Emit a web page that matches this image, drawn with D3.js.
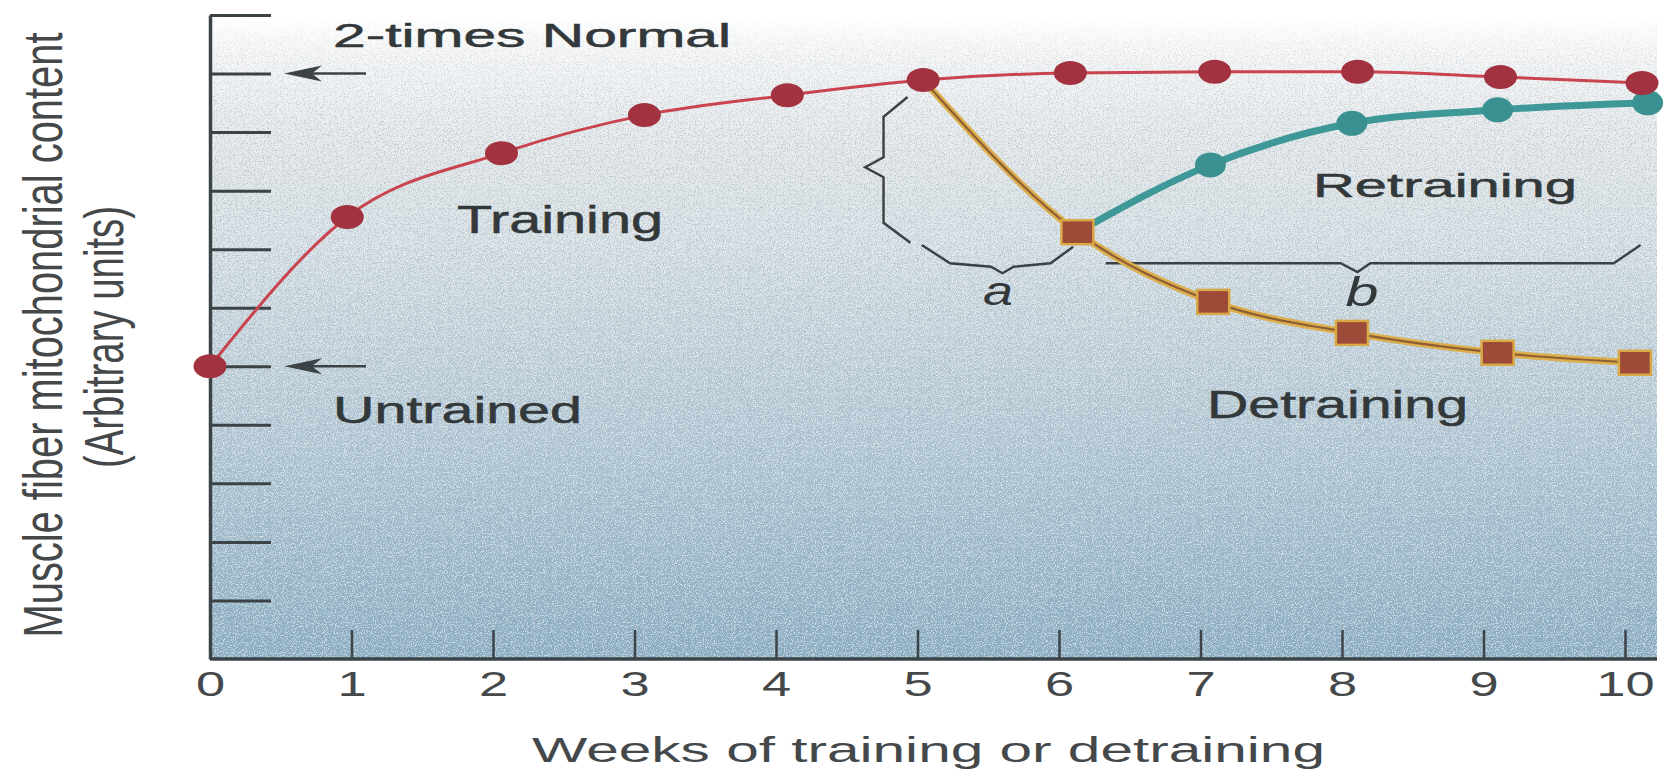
<!DOCTYPE html>
<html>
<head>
<meta charset="utf-8">
<script src="https://cdn.jsdelivr.net/npm/d3@7"></script>
<style>
  html, body { margin: 0; padding: 0; background: #ffffff; }
  svg { display: block; font-family: "Liberation Sans", Arial, Helvetica, sans-serif; }
</style>
</head>
<body>
<svg id="chart" width="1667" height="777"></svg>
<script>
// ---------------- DATA ----------------
const xTickValues = [0, 1, 2, 3, 4, 5, 6, 7, 8, 9, 10];
const xTickLabels = ["0", "1", "2", "3", "4", "5", "6", "7", "8", "9", "10"];
const yTickValues = [1, 2, 3, 4, 5, 6, 7, 8, 9, 10, 11];

const trainingWeeks  = [0, 0.97, 2.06, 3.07, 4.08, 5.04, 6.08, 7.10, 8.11, 9.12, 10.12];
const trainingValues = [5.0, 7.55, 8.64, 9.29, 9.63, 9.89, 10.01, 10.03, 10.03, 9.94, 9.84];

const detrainingWeeks  = [5.04, 6.13, 7.09, 8.07, 9.10, 10.07];
const detrainingValues = [9.89, 7.29, 6.10, 5.57, 5.23, 5.06];

const retrainingWeeks  = [6.13, 7.07, 8.07, 9.10, 10.16];
const retrainingValues = [7.29, 8.44, 9.15, 9.38, 9.50];

const untrainedLevel = 5;
const doubleLevel = 10;

const xTitle = "Weeks of training or detraining";
const yTitle1 = "Muscle fiber mitochondrial content";
const yTitle2 = "(Arbitrary units)";

// ---------------- LAYOUT ----------------
const W = 1667, H = 777;
const P = { left: 210, right: 1657, top: 15, bottom: 659 };
const x = d3.scaleLinear().domain([0, 10]).range([210, 1625]);
const y = d3.scaleLinear().domain([0, 11]).range([P.bottom, P.top]);

const axisColor = "#3b4347";
const textColor = "#33383a";

const svg = d3.select("#chart");
const defs = svg.append("defs");

// background gradient
const grad = defs.append("linearGradient").attr("id", "bg")
  .attr("x1", 0).attr("y1", 0).attr("x2", 0).attr("y2", 1);
[[0, "#ffffff"], [0.08, "#f3f4f5"], [0.25, "#e0e6e9"], [0.45, "#c8d6de"],
 [0.7, "#acc4d2"], [1, "#8aadc4"]].forEach(([o, c]) =>
  grad.append("stop").attr("offset", o).attr("stop-color", c));

// fade masks for the stipple
const mDarkG = defs.append("linearGradient").attr("id", "fadeDark")
  .attr("x1", 0).attr("y1", 0).attr("x2", 0).attr("y2", 1);
[[0, "#000"], [0.06, "#888"], [0.2, "#fff"], [1, "#fff"]].forEach(([o, c]) =>
  mDarkG.append("stop").attr("offset", o).attr("stop-color", c));
const mLightG = defs.append("linearGradient").attr("id", "fadeLight")
  .attr("x1", 0).attr("y1", 0).attr("x2", 0).attr("y2", 1);
[[0, "#000"], [0.15, "#000"], [0.35, "#fff"], [1, "#fff"]].forEach(([o, c]) =>
  mLightG.append("stop").attr("offset", o).attr("stop-color", c));
defs.append("mask").attr("id", "maskDark").attr("maskUnits", "userSpaceOnUse")
  .append("rect").attr("x", P.left).attr("y", P.top)
  .attr("width", P.right - P.left).attr("height", P.bottom - P.top).attr("fill", "url(#fadeDark)");
defs.append("mask").attr("id", "maskLight").attr("maskUnits", "userSpaceOnUse")
  .append("rect").attr("x", P.left).attr("y", P.top)
  .attr("width", P.right - P.left).attr("height", P.bottom - P.top).attr("fill", "url(#fadeLight)");

// stipple texture
const fDark = defs.append("filter").attr("id", "grainDark")
  .attr("x", 0).attr("y", 0).attr("width", "100%").attr("height", "100%");
fDark.append("feTurbulence").attr("type", "fractalNoise").attr("baseFrequency", 0.85)
  .attr("numOctaves", 2).attr("seed", 4);
fDark.append("feColorMatrix").attr("type", "matrix")
  .attr("values", "0 0 0 0 0.30  0 0 0 0 0.36  0 0 0 0 0.42  0 0 0 9 -4.8");
const fLight = defs.append("filter").attr("id", "grainLight")
  .attr("x", 0).attr("y", 0).attr("width", "100%").attr("height", "100%");
fLight.append("feTurbulence").attr("type", "fractalNoise").attr("baseFrequency", 0.9)
  .attr("numOctaves", 2).attr("seed", 11);
fLight.append("feColorMatrix").attr("type", "matrix")
  .attr("values", "0 0 0 0 1  0 0 0 0 1  0 0 0 0 1  0 0 0 9 -4.7");

svg.append("rect").attr("width", W).attr("height", H).attr("fill", "#ffffff");

const bgG = svg.append("g");
bgG.append("rect").attr("x", P.left).attr("y", P.top)
  .attr("width", P.right - P.left).attr("height", P.bottom - P.top).attr("fill", "url(#bg)");
bgG.append("g").attr("mask", "url(#maskDark)")
  .append("rect").attr("x", P.left).attr("y", P.top)
  .attr("width", P.right - P.left).attr("height", P.bottom - P.top)
  .attr("filter", "url(#grainDark)").attr("opacity", 0.4);
bgG.append("g").attr("mask", "url(#maskLight)")
  .append("rect").attr("x", P.left).attr("y", P.top)
  .attr("width", P.right - P.left).attr("height", P.bottom - P.top)
  .attr("filter", "url(#grainLight)").attr("opacity", 0.5);

// ---------------- AXES ----------------
const yAxis = d3.axisRight(y).tickValues(yTickValues).tickSizeInner(61).tickSizeOuter(0).tickFormat("");
const yG = svg.append("g").attr("transform", `translate(${P.left},0)`).call(yAxis);
yG.select(".domain").attr("stroke", axisColor).attr("stroke-width", 3.5);
yG.selectAll(".tick line").attr("stroke", axisColor).attr("stroke-width", 3);

const xAxis = d3.axisBottom(x).tickValues(xTickValues)
  .tickFormat((d, i) => xTickLabels[i]).tickSizeInner(-29).tickSizeOuter(0).tickPadding(12);
const xG = svg.append("g").attr("transform", `translate(0,${P.bottom})`).call(xAxis);
xG.select(".domain").remove();
xG.selectAll(".tick line").attr("stroke", axisColor).attr("stroke-width", 2.5);
xG.selectAll(".tick").filter(d => d === 0).select("line").remove();
xG.selectAll(".tick text")
  .attr("fill", "#44484a").attr("font-size", 35)
  .attr("font-family", '"Liberation Sans", Arial, sans-serif')
  .attr("transform", "scale(1.5,1)");
svg.append("line").attr("x1", P.left).attr("x2", P.right)
  .attr("y1", P.bottom).attr("y2", P.bottom)
  .attr("stroke", axisColor).attr("stroke-width", 3.5);

// axis titles
svg.append("text")
  .attr("transform", `translate(${(x(0) + x(10)) / 2 + 11},762)`)
  .attr("text-anchor", "middle").attr("font-size", 35).attr("fill", "#44484a")
  .attr("textLength", 793).attr("lengthAdjust", "spacingAndGlyphs")
  .text(xTitle);

svg.append("text")
  .attr("transform", `translate(62,${(P.top + P.bottom) / 2 - 2}) scale(1.4,1) rotate(-90)`)
  .attr("text-anchor", "middle").attr("font-size", 40).attr("fill", "#44484a")
  .attr("textLength", 605).attr("lengthAdjust", "spacingAndGlyphs")
  .text(yTitle1);
svg.append("text")
  .attr("transform", `translate(123,${(P.top + P.bottom) / 2}) scale(1.4,1) rotate(-90)`)
  .attr("text-anchor", "middle").attr("font-size", 40).attr("fill", "#44484a")
  .attr("textLength", 262).attr("lengthAdjust", "spacingAndGlyphs")
  .text(yTitle2);

// ---------------- REFERENCE ARROWS ----------------
[doubleLevel, untrainedLevel].forEach(v => {
  const yy = y(v), x0 = P.left + 74, x1 = P.left + 156;
  svg.append("line").attr("x1", x0 + 10).attr("x2", x1).attr("y1", yy).attr("y2", yy)
    .attr("stroke", axisColor).attr("stroke-width", 2.5);
  svg.append("path")
    .attr("d", `M${x0},${yy} L${x0 + 38},${yy - 8} L${x0 + 28},${yy} L${x0 + 38},${yy + 8} Z`)
    .attr("fill", axisColor);
});

// ---------------- BRACES (data coordinates) ----------------
const braceLeft = [[4.93, 9.60], [4.76, 9.26], [4.76, 8.57], [4.63, 8.40], [4.76, 8.23], [4.76, 7.45], [4.95, 7.11]];
const braceA = [[5.03, 7.07], [5.23, 6.76], [5.52, 6.70], [5.60, 6.59], [5.68, 6.70], [5.94, 6.76], [6.10, 7.04]];
const braceB = [[6.33, 6.76], [7.99, 6.76], [8.11, 6.61], [8.20, 6.76], [9.92, 6.76], [10.11, 7.07]];
const bLine = d3.line().x(d => x(d[0])).y(d => y(d[1]));
[braceLeft, braceA, braceB].forEach(b =>
  svg.append("path").attr("d", bLine(b)).attr("fill", "none")
    .attr("stroke", "#3a4044").attr("stroke-width", 2.4).attr("stroke-linejoin", "miter"));

// ---------------- SERIES ----------------
const line = d3.line().x(d => x(d[0])).y(d => y(d[1])).curve(d3.curveMonotoneX);
const training = trainingWeeks.map((w, i) => [w, trainingValues[i]]);
const detraining = detrainingWeeks.map((w, i) => [w, detrainingValues[i]]);
const retraining = retrainingWeeks.map((w, i) => [w, retrainingValues[i]]);

// detraining: gold line with brown core
svg.append("path").attr("d", line(detraining)).attr("fill", "none")
  .attr("stroke", "#dcae4c").attr("stroke-width", 7).attr("stroke-linecap", "round");
svg.append("path").attr("d", line(detraining)).attr("fill", "none")
  .attr("stroke", "#8e5e34").attr("stroke-width", 2.2);

// retraining line
svg.append("path").attr("d", line(retraining)).attr("fill", "none")
  .attr("stroke", "#3e9898").attr("stroke-width", 7).attr("stroke-linecap", "round");

// training line
svg.append("path").attr("d", line(training)).attr("fill", "none")
  .attr("stroke", "#c9444f").attr("stroke-width", 3);

// markers
svg.append("g").selectAll("ellipse").data(retraining.slice(1)).join("ellipse")
  .attr("cx", d => x(d[0])).attr("cy", d => y(d[1]))
  .attr("rx", 15.5).attr("ry", 12.5).attr("fill", "#3b9191");

svg.append("g").selectAll("ellipse").data(training).join("ellipse")
  .attr("cx", d => x(d[0])).attr("cy", d => y(d[1]))
  .attr("rx", 16.5).attr("ry", 12).attr("fill", "#a2323f");

svg.append("g").selectAll("rect").data(detraining.slice(1)).join("rect")
  .attr("x", d => x(d[0]) - 16).attr("y", d => y(d[1]) - 12)
  .attr("width", 32).attr("height", 24)
  .attr("fill", "#9d4a38").attr("stroke", "#d9a847").attr("stroke-width", 2.5);

// ---------------- LABELS ----------------
const labelTexts = ["2-times Normal", "Training", "Untrained", "Retraining", "Detraining"];
const labelLayout = [
  { px: 333, py: 47, size: 33, len: 398 },
  { px: 457, py: 233, size: 38, len: 206 },
  { px: 333, py: 423, size: 37, len: 249 },
  { px: 1313, py: 197, size: 33, len: 264 },
  { px: 1207, py: 418, size: 38, len: 261 }
];
labelTexts.forEach((t, i) => {
  const L = labelLayout[i];
  svg.append("text").attr("x", L.px).attr("y", L.py)
    .attr("font-size", L.size).attr("fill", textColor)
    .attr("stroke", textColor).attr("stroke-width", 0.5)
    .attr("textLength", L.len).attr("lengthAdjust", "spacingAndGlyphs")
    .text(t);
});

const letterTexts = ["a", "b"];
const letterLayout = [{ px: 998, py: 305, len: 30 }, { px: 1362, py: 306, len: 33 }];
letterTexts.forEach((t, i) => {
  const L = letterLayout[i];
  svg.append("text").attr("x", L.px).attr("y", L.py)
    .attr("text-anchor", "middle").attr("font-size", 40).attr("font-style", "italic")
    .attr("fill", textColor).attr("textLength", L.len).attr("lengthAdjust", "spacingAndGlyphs")
    .text(t);
});
</script>
</body>
</html>
